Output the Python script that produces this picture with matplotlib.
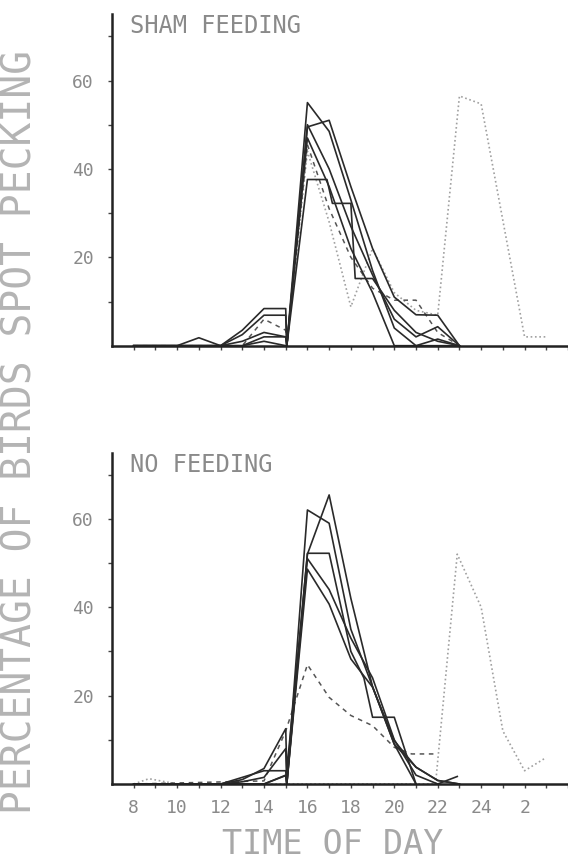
import matplotlib
matplotlib.use('Agg')
import matplotlib.pyplot as plt

# ---- data (hour of day, % of birds spot pecking) ----
# hours after midnight are written as 24+h (25 = 1 am, 26 = 2 am ...)

# sham feeding, solid lines
sham_1_x = [8, 9, 10, 11, 12, 13, 14, 15, 15.05, 16, 17, 18, 19, 20, 21, 22, 23]
sham_1_y = [0, 0, 0, 0, 0, 3.5, 8.4, 8.4, 0, 55, 48.5, 33, 17, 4, 0, 0, 0]
sham_2_x = [8, 9, 10, 11, 12, 13, 14, 15, 15.05, 16, 17, 18, 19, 20, 21, 22, 23]
sham_2_y = [0, 0, 0, 0, 0, 2.5, 6.9, 6.9, 0, 49.5, 51, 36, 22, 11, 7, 6.9, 0]
sham_3_x = [8, 12, 13, 14, 15, 15.05, 16, 16.9, 17.15, 18, 18.2, 19, 20, 21, 22, 23]
sham_3_y = [0, 0, 0, 2, 2, 0, 37.6, 37.6, 32.2, 32.2, 15.2, 15.2, 8, 3, 1, 0]
sham_4_x = [8, 9, 10, 11, 12, 13, 14, 15, 15.05, 16, 17, 18, 19, 20, 21, 22, 23]
sham_4_y = [0, 0, 0, 1.8, 0, 0, 1, 0, 0, 47, 36, 22, 12, 0, 0, 1.5, 0]
sham_5_x = [8, 12, 13, 14, 15, 15.05, 16, 17, 18, 19, 20, 21, 22, 23]
sham_5_y = [0, 0, 1, 3, 2, 0, 50, 40, 27, 16, 6, 2, 4.3, 0]
# sham feeding, dashed and dotted lines
sham_dash_x = [8, 13, 14, 15, 15.05, 16, 17, 18, 19, 20, 21, 22, 23]
sham_dash_y = [0, 0, 6, 3.5, 0, 45.5, 31, 20, 13, 10.3, 10.3, 3, 0]
sham_dot_x = [15.05, 16, 17, 18, 19, 20, 21, 22, 23, 24, 26, 27]
sham_dot_y = [0, 44, 28, 8.8, 22, 12, 8, 6.9, 56.5, 54.7, 2, 2]

# no feeding, solid lines
nofeed_1_x = [8, 12, 13, 14, 15, 15.05, 16, 17, 18, 19, 20, 21, 22, 23]
nofeed_1_y = [0, 0, 1.5, 3, 3, 0, 62, 59, 35, 22, 9, 3.8, 0.8, 0]
nofeed_2_x = [8, 12, 13, 14, 15, 15.05, 16, 17, 18, 19, 20, 21]
nofeed_2_y = [0, 0, 1, 3.5, 12.5, 3, 52, 65.4, 42, 22, 9, 0]
nofeed_3_x = [8, 13, 14, 15, 15.05, 16, 17, 18, 18.6, 19, 20, 21]
nofeed_3_y = [0, 0, 0, 2, 0, 52.2, 52.2, 30, 24, 15.1, 15.1, 0]
nofeed_4_x = [8, 12, 13, 14, 15, 15.05, 16, 17, 18, 19, 20, 21, 22, 23]
nofeed_4_y = [0, 0, 0.5, 1.5, 8, 0, 48.6, 40.7, 28.3, 21.9, 9.8, 3.8, 0.8, 0]
nofeed_5_x = [8, 14, 15, 15.05, 16, 17, 18, 19, 20, 21, 22, 22.9]
nofeed_5_y = [0, 0, 1.9, 0, 51, 44, 33, 24, 10, 2, 0, 1.7]
# no feeding, dashed and dotted lines
nofeed_dash_x = [8, 14, 15, 16, 17, 18, 19, 20, 20.8, 22]
nofeed_dash_y = [0, 0.7, 12, 27, 19.6, 15.5, 13.2, 8.3, 6.8, 6.8]
nofeed_dot_x = [8, 8.7, 10, 21.9, 22.9, 24, 25, 26, 27]
nofeed_dot_y = [0, 1.2, 0, 0, 52, 40, 12, 3, 6]

hour_ticks = list(range(8, 29))
hour_label_pos = [8, 10, 12, 14, 16, 18, 20, 22, 24, 26]
hour_labels = ['8', '10', '12', '14', '16', '18', '20', '22', '24', '2']
pct_ticks = [10, 20, 30, 40, 50, 60, 70]
pct_labels = ['', '20', '', '40', '', '60', '']

font = 'DejaVu Sans Mono'
solid = dict(color='#2a2a2a', lw=1.2, ls='-')
dashed = dict(color='#555555', lw=1.1, ls=(0, (3, 3)))
dotted = dict(color='#a0a0a0', lw=1.2, ls=(0, (1, 1.6)))

fig = plt.figure(figsize=(5.68, 8.6), dpi=100)
left = 112 / 568
ax1 = fig.add_axes([left, (860 - 345.7) / 860, 1 - left, 331.5 / 860])
ax2 = fig.add_axes([left, (860 - 784) / 860, 1 - left, 331.5 / 860])

ax1.plot(sham_dot_x, sham_dot_y, **dotted)
ax1.plot(sham_dash_x, sham_dash_y, **dashed)
for xs, ys in [(sham_1_x, sham_1_y), (sham_2_x, sham_2_y), (sham_3_x, sham_3_y),
               (sham_4_x, sham_4_y), (sham_5_x, sham_5_y)]:
    ax1.plot(xs, ys, **solid)

ax2.plot(nofeed_dot_x, nofeed_dot_y, **dotted)
ax2.plot(nofeed_dash_x, nofeed_dash_y, **dashed)
for xs, ys in [(nofeed_1_x, nofeed_1_y), (nofeed_2_x, nofeed_2_y), (nofeed_3_x, nofeed_3_y),
               (nofeed_4_x, nofeed_4_y), (nofeed_5_x, nofeed_5_y)]:
    ax2.plot(xs, ys, **solid)

for ax, title in [(ax1, 'SHAM FEEDING'), (ax2, 'NO FEEDING')]:
    ax.set_xlim(7, 28)
    ax.set_ylim(0, 75)
    for s in ['top', 'right']:
        ax.spines[s].set_visible(False)
    for s in ['left', 'bottom']:
        ax.spines[s].set_linewidth(1.8)
        ax.spines[s].set_color('#222222')
    ax.set_xticks(hour_ticks)
    ax.set_xticklabels([])
    ax.set_yticks(pct_ticks)
    ax.set_yticklabels(pct_labels, family=font, fontsize=13, color='#8a8a8a')
    ax.tick_params(axis='both', direction='out', length=3, width=1, color='#444444')
    ax.tick_params(axis='y', pad=10)
    ax.patch.set_alpha(0)
    ax.text(0.04, 1.0, title, transform=ax.transAxes, va='top', ha='left',
            family=font, fontsize=17, color='#8a8a8a')

ax2.set_xticks(hour_ticks)
ax2.set_xticklabels([hour_labels[hour_label_pos.index(h)] if h in hour_label_pos else ''
                     for h in hour_ticks], family=font, fontsize=13, color='#8a8a8a')
ax2.tick_params(axis='x', pad=8)

fig.text(0.036, 0.498, 'PERCENTAGE OF BIRDS SPOT PECKING', rotation=90,
         ha='center', va='center', family=font, fontsize=28.5, color='#b4b4b4')
fig.text(333 / 568, (860 - 845) / 860, 'TIME OF DAY', ha='center', va='center',
         family=font, fontsize=24, color='#a8a8a8')

fig.savefig('out.png', dpi=100)
